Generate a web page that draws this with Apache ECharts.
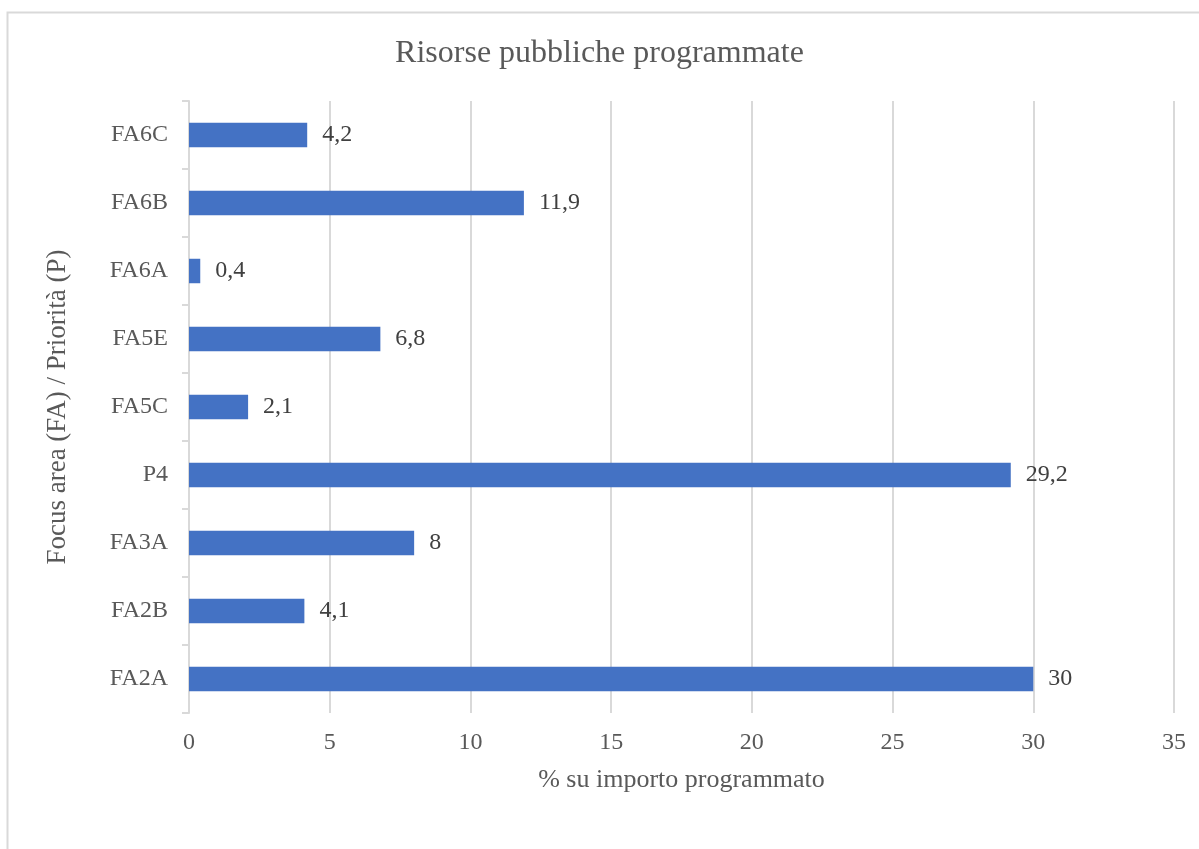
<!DOCTYPE html>
<html>
<head>
<meta charset="utf-8">
<script src="https://cdn.jsdelivr.net/npm/echarts@6/dist/echarts.min.js"></script>
<style>
  html, body { margin: 0; padding: 0; background: #fff; }
  #chart { width: 1199px; height: 849px; }
</style>
</head>
<body>
<div id="chart"></div>
<script>
const categories = ["FA2A", "FA2B", "FA3A", "P4", "FA5C", "FA5E", "FA6A", "FA6B", "FA6C"];
const values = [30, 4.1, 8, 29.2, 2.1, 6.8, 0.4, 11.9, 4.2];
const xTicks = [0, 5, 10, 15, 20, 25, 30, 35];

const serif = "'Liberation Serif', 'Times New Roman', serif";

const chart = echarts.init(document.getElementById("chart"));
chart.setOption({
  animation: false,
  backgroundColor: "#fff",
  textStyle: { fontFamily: serif },
  graphic: [
    {
      type: "rect",
      left: 5,
      top: 10,
      shape: { width: 1300, height: 900 },
      style: { fill: "none", stroke: "#d9d9d9", lineWidth: 2 },
      silent: true,
    },
  ],
  title: {
    text: "Risorse pubbliche programmate",
    left: "center",
    top: 33,
    textStyle: { fontFamily: serif, fontSize: 32, fontWeight: "normal", color: "#595959" },
  },
  grid: {
    left: 189,
    right: 25,
    top: 101,
    bottom: 136,
  },
  xAxis: {
    type: "value",
    min: xTicks[0],
    max: xTicks[xTicks.length - 1],
    interval: 5,
    name: "% su importo programmato",
    nameLocation: "middle",
    nameGap: 54,
    nameTextStyle: { fontFamily: serif, fontSize: 26, color: "#595959" },
    axisLine: { show: false },
    axisTick: { show: false },
    axisLabel: { fontFamily: serif, fontSize: 24, color: "#595959", margin: 18 },
    splitLine: { show: true, lineStyle: { color: "#d9d9d9", width: 2 } },
  },
  yAxis: {
    type: "category",
    data: categories,
    name: "Focus area (FA) / Priorità (P)",
    nameLocation: "middle",
    nameGap: 118,
    nameTextStyle: { fontFamily: serif, fontSize: 27, color: "#595959" },
    axisLine: { show: true, lineStyle: { color: "#d9d9d9", width: 2 } },
    axisTick: { show: true, length: 7, lineStyle: { color: "#d9d9d9", width: 2 } },
    axisLabel: { fontFamily: serif, fontSize: 24, color: "#595959", margin: 21 },
  },
  series: [
    {
      type: "bar",
      data: values,
      barCategoryGap: "64%",
      itemStyle: { color: "#4472c4" },
      label: {
        show: true,
        position: "right",
        distance: 15,
        fontFamily: serif,
        fontSize: 24,
        color: "#404040",
        formatter: (p) => String(p.value).replace(".", ","),
      },
    },
  ],
});
</script>
</body>
</html>
